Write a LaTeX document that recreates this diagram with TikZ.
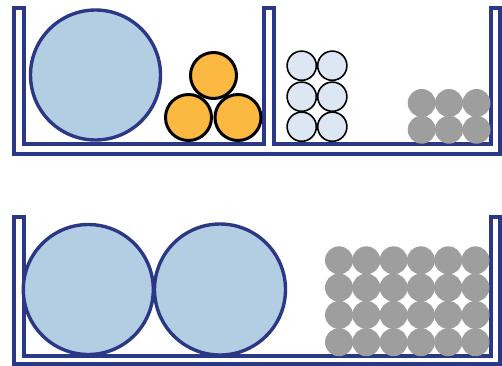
\documentclass[tikz,border=0pt]{standalone}
\definecolor{wallblue}{HTML}{2B3886}
\definecolor{bigfill}{HTML}{B3CDE3}
\definecolor{orangefill}{HTML}{FBB941}
\definecolor{paleblue}{HTML}{DDE6F3}
\definecolor{ballgray}{HTML}{9E9E9E}
\begin{document}
\begin{tikzpicture}[x=1pt,y=-1pt,
  wall/.style={draw=wallblue,line width=3.2pt,fill=white,line join=miter},
  bigball/.style={draw=wallblue,line width=3.4pt,fill=bigfill},
  orangeball/.style={draw=black,line width=3pt,fill=orangefill},
  paleball/.style={draw=black,line width=1.6pt,fill=paleblue},
  grayball/.style={fill=ballgray}]
\useasboundingbox (0,0) rectangle (502,365);
% top container
\draw[wall] (14,8) -- (24,8) -- (24,144) -- (264,144) -- (264,8) -- (274,8) -- (274,144)
  -- (491,144) -- (491,8) -- (500,8) -- (500,154) -- (14,154) -- cycle;
% bottom container
\draw[wall] (14,217) -- (24,217) -- (24,356) -- (491,356) -- (491,217) -- (500,217)
  -- (500,364) -- (14,364) -- cycle;
% top left compartment
\draw[bigball] (95.5,75) circle (65);
\draw[orangeball] (213.5,75.5) circle (23);
\draw[orangeball] (188.5,117.5) circle (23);
\draw[orangeball] (238,117.5) circle (23);
% top right compartment
\foreach \cx in {301.7,332.3}
  \foreach \cy in {65.7,96.7,126.7}
    \draw[paleball] (\cx,\cy) circle (14.6);
\foreach \cx in {421.7,449,476.5}
  \foreach \cy in {103,129.7}
    \fill[grayball] (\cx,\cy) circle (14);
% bottom container contents
\draw[bigball] (88.3,289.5) circle (65);
\draw[bigball] (220,289.5) circle (65.5);
\foreach \i in {0,...,5}
  \foreach \j in {0,...,3}
    \fill[grayball] ({339+27.3*\i},{260.3+27.3*\j}) circle (14);
\end{tikzpicture}
\end{document}
